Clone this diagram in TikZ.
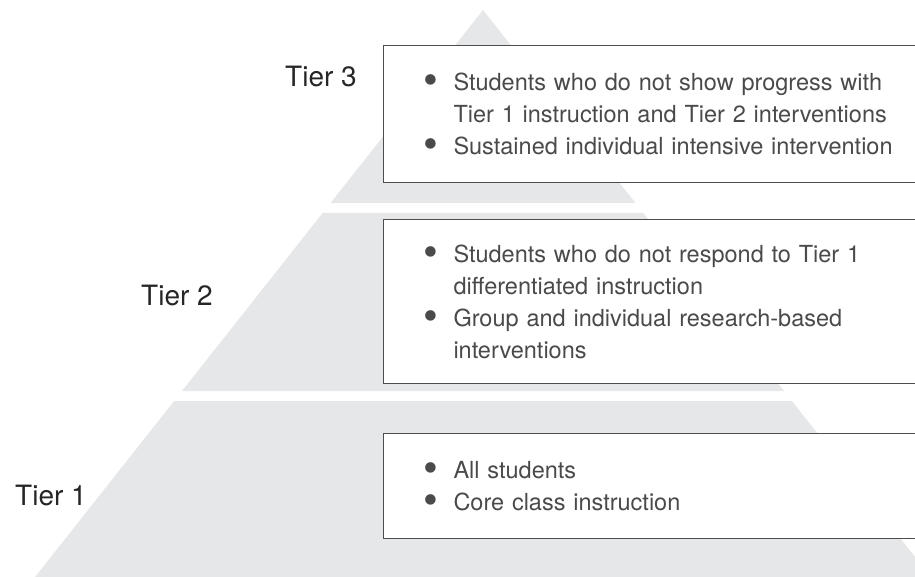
\documentclass[tikz,border=0pt]{standalone}
\usepackage{fontspec}
\setmainfont{TeX Gyre Heros}
\usetikzlibrary{positioning}

\definecolor{PyrGray}{HTML}{E6E7E8}
\definecolor{BoxLine}{HTML}{4D4D4D}
\definecolor{TextGray}{HTML}{4A4A4A}
\definecolor{TierGray}{HTML}{262626}

\newcommand{\bitem}[1]{\makebox[30pt][l]{\smash{\raisebox{-4pt}{\scalebox{1.8}{\textbullet}}}}#1}
\newcommand{\bcont}[1]{\hspace*{30pt}#1}

\begin{document}
\begin{tikzpicture}[x=1pt,y=-1pt,
	tierbox/.style={draw=BoxLine, line width=1pt, fill=white, anchor=north west,
		text width=470pt, inner xsep=40pt, inner ysep=0pt, align=left,
		font=\fontsize{23.5}{32}\selectfont, text=TextGray},
	tierlabel/.style={font=\fontsize{28}{30}\selectfont, text=TierGray}]
\def\apx{483}
\def\apy{10}
\def\slope{0.79}
\useasboundingbox (0,0) rectangle (915,577);

\begin{scope}
\clip (0,0) rectangle (915,577);

% pyramid bands
\foreach \ytop/\ybot in {10/203,213/391,401/590}
	{
	\pgfmathsetmacro\wtop{\slope*(\ytop-\apy)}
	\pgfmathsetmacro\wbot{\slope*(\ybot-\apy)}
	\fill[PyrGray] (\apx-\wtop,\ytop) -- (\apx+\wtop,\ytop) -- (\apx+\wbot,\ybot) -- (\apx-\wbot,\ybot) -- cycle;
	}

% text boxes
\node[tierbox, minimum height=137pt] (box3) at (383,45)
	{\bitem{Students who do not show progress with}\\
	 \bcont{Tier 1 instruction and Tier 2 interventions}\\
	 \bitem{Sustained individual intensive intervention}};
\node[tierbox, minimum height=164pt] (box2) at (383,219)
	{\bitem{Students who do not respond to Tier 1}\\
	 \bcont{differentiated instruction}\\
	 \bitem{Group and individual research-based}\\
	 \bcont{interventions}};
\node[tierbox, minimum height=105pt] (box1) at (383,433)
	{\bitem{All students}\\
	 \bitem{Core class instruction}};
\end{scope}

% tier labels
\node[tierlabel] (tier3) at (321,77) {Tier 3};
\node[tierlabel] (tier2) at (177,296) {Tier 2};
\node[tierlabel] (tier1) at (51,496) {Tier 1};

\end{tikzpicture}
\end{document}
